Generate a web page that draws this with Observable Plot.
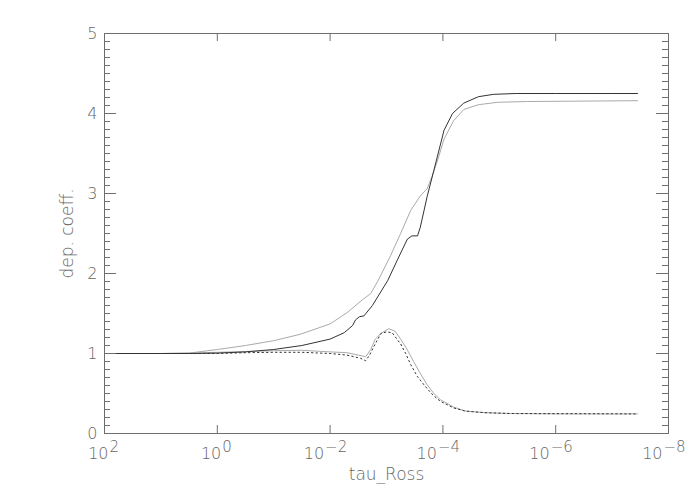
<!DOCTYPE html>
<html>
<head>
<meta charset="utf-8">
<script src="https://cdn.jsdelivr.net/npm/d3@7"></script>
<script src="https://cdn.jsdelivr.net/npm/@observablehq/plot@0.6"></script>
<style>
  html, body { margin: 0; padding: 0; background: #fff; }
  #chart svg { display: block; }
</style>
</head>
<body>
<div id="chart"></div>
<script>
// log10(tau_Ross) positions and departure coefficients
const expBlack = [2, 1, 0.5, 0, -0.5, -1, -1.5, -2, -2.25, -2.4, -2.45, -2.52, -2.6, -2.75, -3.02, -3.2, -3.37, -3.45, -3.55, -3.6, -3.72, -3.84, -4.02, -4.17, -4.37, -4.63, -4.9, -5.3, -6, -7, -7.45];
const depBlack = [1.0, 1.0, 1.0, 1.005, 1.02, 1.05, 1.1, 1.18, 1.26, 1.35, 1.42, 1.46, 1.47, 1.6, 1.91, 2.18, 2.43, 2.47, 2.47, 2.58, 2.96, 3.29, 3.79, 4.0, 4.13, 4.21, 4.24, 4.25, 4.25, 4.25, 4.25];

const expGray = [2, 1, 0.5, 0, -0.5, -1, -1.47, -2, -2.3, -2.57, -2.72, -2.85, -3.07, -3.25, -3.43, -3.6, -3.72, -3.8, -3.9, -4.02, -4.19, -4.37, -4.63, -4.97, -5.5, -7.45];
const depGray = [1.0, 1.0, 1.005, 1.05, 1.1, 1.16, 1.24, 1.37, 1.51, 1.67, 1.75, 1.91, 2.22, 2.5, 2.79, 2.97, 3.06, 3.2, 3.4, 3.68, 3.91, 4.05, 4.11, 4.14, 4.15, 4.16];

const expGrayLow = [2, 1, 0.5, 0, -0.5, -1, -1.5, -2, -2.3, -2.5, -2.63, -2.72, -2.8, -2.9, -3.04, -3.15, -3.25, -3.35, -3.48, -3.6, -3.72, -3.84, -3.96, -4.19, -4.4, -4.75, -5.2, -6, -7.45];
const depGrayLow = [1.0, 1.0, 1.005, 1.015, 1.025, 1.035, 1.04, 1.02, 1.01, 0.98, 0.96, 1.05, 1.18, 1.25, 1.31, 1.28, 1.18, 1.07, 0.9, 0.75, 0.61, 0.5, 0.42, 0.33, 0.28, 0.26, 0.25, 0.245, 0.245];

const expDotted = [2, 1, 0, -0.5, -1, -1.5, -2, -2.3, -2.54, -2.63, -2.7, -2.77, -2.9, -3.0, -3.1, -3.25, -3.34, -3.43, -3.55, -3.72, -3.84, -3.96, -4.19, -4.4, -4.75, -5.2, -7.45];
const depDotted = [1.0, 1.0, 1.0, 1.01, 1.015, 1.015, 1.0, 0.98, 0.94, 0.91, 0.98, 1.08, 1.25, 1.27, 1.26, 1.12, 1.0, 0.86, 0.71, 0.56, 0.47, 0.4, 0.32, 0.28, 0.26, 0.25, 0.245];

// axis ticks
const xTickExps = [2, 0, -2, -4, -6, -8];
const yMajor = [0, 1, 2, 3, 4, 5];
const yMinorTenths = d3.range(0, 51).filter(i => i % 10 !== 0);

const toRows = (exps, vals) => exps.map((e, i) => ({tau: Math.pow(10, e), v: vals[i]}));
const black = toRows(expBlack, depBlack);
const gray = toRows(expGray, depGray);
const grayLow = toRows(expGrayLow, depGrayLow);
const dotted = toRows(expDotted, depDotted);

const W = 700, H = 500, ML = 104, MR = 32, MT = 33, MB = 67;
const PW = W - ML - MR, PH = H - MT - MB;
const axisColor = "#6e6e6e";
const textColor = "#666";
const font = "DejaVu Sans";

const minorTicks = yMinorTenths.map(i => i / 10);
const xTicks = xTickExps.map(e => ({tau: Math.pow(10, e), e}));
const supMinus = "\u2212";
const labelStyle = {fill: textColor, fontWeight: 200};

const chart = Plot.plot({
  width: W, height: H,
  marginLeft: ML, marginRight: MR, marginTop: MT, marginBottom: MB,
  x: {type: "log", domain: [1e2, 1e-8], axis: null},
  y: {domain: [0, 5], axis: null},
  style: {fontFamily: font, background: "#fff"},
  marks: [
    // lines
    Plot.line(gray, {x: "tau", y: "v", stroke: "#aaaaaa", strokeWidth: 1}),
    Plot.line(grayLow, {x: "tau", y: "v", stroke: "#aaaaaa", strokeWidth: 1}),
    Plot.line(dotted, {x: "tau", y: "v", stroke: "#333", strokeWidth: 1, strokeDasharray: "1.5,3"}),
    Plot.line(black, {x: "tau", y: "v", stroke: "#333", strokeWidth: 1}),
    // frame
    Plot.frame({stroke: axisColor, strokeWidth: 1}),
    // y ticks left & right
    Plot.tickY(yMajor, {y: d => d, stroke: axisColor, insetRight: PW - 12}),
    Plot.tickY(yMajor, {y: d => d, stroke: axisColor, insetLeft: PW - 12}),
    Plot.tickY(minorTicks, {y: d => d, stroke: axisColor, insetRight: PW - 6}),
    Plot.tickY(minorTicks, {y: d => d, stroke: axisColor, insetLeft: PW - 6}),
    // x ticks bottom & top
    Plot.tickX(xTicks, {x: "tau", stroke: axisColor, insetTop: PH - 8}),
    Plot.tickX(xTicks, {x: "tau", stroke: axisColor, insetBottom: PH - 8}),
    // y tick labels
    Plot.text(yMajor, {y: d => d, frameAnchor: "left", dx: -7, text: d => String(d), textAnchor: "end", fontSize: 16, ...labelStyle}),
    // x tick labels: base "10" and raised exponent
    Plot.text(xTicks.filter(d => d.e >= 0), {x: "tau", frameAnchor: "bottom", dy: 25, dx: 4, text: () => "10", textAnchor: "end", fontSize: 16, ...labelStyle}),
    Plot.text(xTicks.filter(d => d.e >= 0), {x: "tau", frameAnchor: "bottom", dy: 18, dx: 5, text: d => String(d.e), textAnchor: "start", fontSize: 15, ...labelStyle}),
    Plot.text(xTicks.filter(d => d.e < 0), {x: "tau", frameAnchor: "bottom", dy: 25, dx: -6, text: () => "10", textAnchor: "end", fontSize: 16, ...labelStyle}),
    Plot.text(xTicks.filter(d => d.e < 0), {x: "tau", frameAnchor: "bottom", dy: 18, dx: -5, text: d => supMinus + String(-d.e), textAnchor: "start", fontSize: 15, ...labelStyle}),
    // axis titles
    Plot.text(["tau_Ross"], {frameAnchor: "bottom", dy: 46, text: d => d, textAnchor: "middle", fontSize: 17, letterSpacing: "1px", ...labelStyle}),
    Plot.text(["dep. coeff."], {frameAnchor: "left", dx: -37, rotate: -90, text: d => d, textAnchor: "middle", fontSize: 17, letterSpacing: "1px", ...labelStyle})
  ]
});
document.getElementById("chart").appendChild(chart);
</script>
</body>
</html>
